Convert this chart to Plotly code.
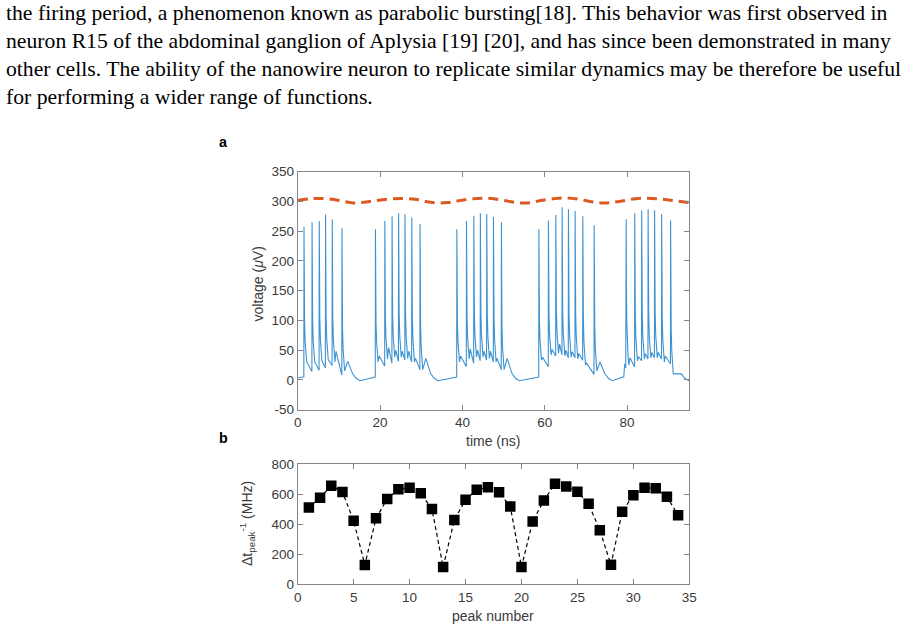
import plotly.graph_objects as go

W, H = 920, 633

# ---------------- paragraph text ----------------
text_lines = [
    "the firing period, a phenomenon known as parabolic bursting[18]. This behavior was first observed in",
    "neuron R15 of the abdominal ganglion of Aplysia [19] [20], and has since been demonstrated in many",
    "other cells. The ability of the nanowire neuron to replicate similar dynamics may be therefore be useful",
    "for performing a wider range of functions.",
]

# ---------------- panel a data ----------------
# spike times (ns) per burst
spike_t = [
    [1.53, 3.49, 5.23, 6.76, 8.39, 10.75],
    [18.88, 21.16, 22.92, 24.50, 26.06, 27.71, 29.71],
    [38.65, 40.99, 42.77, 44.36, 45.91, 47.54, 49.47],
    [58.57, 60.89, 62.69, 64.22, 65.75, 67.37, 69.24, 72.00],
    [79.78, 81.85, 83.54, 85.10, 86.67, 88.39, 90.56],
]
# spike peak voltages (uV)
spike_peak = [
    [257, 265, 267, 278, 270, 255],
    [253, 267, 275, 280, 279, 273, 262],
    [253, 267, 276, 280, 279, 274, 265],
    [253, 268, 277, 290, 287, 284, 275, 260],
    [270, 280, 285, 287, 285, 279, 268],
]
# level reached after the fast repolarisation
spike_floor = [
    [30, 30, 32, 34, 30, 15],
    [30, 35, 38, 38, 36, 30, 17],
    [30, 35, 38, 38, 36, 30, 17],
    [33, 42, 45, 40, 38, 35, 25, 15],
    [25, 32, 35, 37, 37, 30, 10],
]
# after-potential hump
spike_hump = [
    [30, 30, 32, 34, 48, 31],
    [40, 54, 50, 48, 48, 36, 36],
    [40, 52, 50, 48, 48, 36, 36],
    [38, 51, 60, 50, 47, 44, 28, 30],
    [37, 39, 44, 46, 46, 40, 10],
]
# minimum just before the next spike in the burst
spike_trough = [
    [14, 16, 20, 24, 8],
    [23, 28, 31, 33, 30, 17],
    [22, 28, 32, 33, 30, 17],
    [22, 40, 42, 37, 37, 33, 9],
    [22, 32, 35, 37, 35, 27],
]
# resting level just before each burst onset, and pre-burst bump
onset_v = [5, 4.5, 4.5, 4.5, 5]
onset_bump = [None, None, None, None, 27]
trace_start_v = 3
trace_end_t, trace_end_v = 95.1, -0.5
# post-burst tail (time after last spike, voltage)
tail_dt = [2.6, 3.5, 4.4]
tail_v = [10, 2, -1.5]

# orange dashed envelope
orange_t = [0, 3, 5.5, 8.5, 11, 13.5, 16, 18.5, 22, 25.5, 28.5, 31, 34, 36.5, 39, 42, 45, 48,
            51, 54, 56.5, 59, 62, 65, 68, 71, 74, 76.5, 79, 82, 85, 88, 91, 95.1]
orange_v = [301.5, 304.5, 305, 303.5, 300, 297.5, 298.5, 301, 304, 305, 303.5, 300, 297.5, 298,
            301, 304, 305.5, 304, 300.5, 297.5, 298, 301.5, 304.5, 306, 304, 300, 297.5, 298.5,
            301, 304.5, 305.5, 304, 301.5, 298]

# ---------------- panel b data ----------------
peak_number = list(range(1, 35))
peak_rate = [510, 576, 655, 614, 423, 129, 439, 568, 632, 642, 605, 500, 115, 428, 562, 628,
             645, 612, 518, 115, 418, 557, 668, 650, 615, 535, 360, 130, 482, 593, 642, 638,
             582, 460]

a_xticks = [0, 20, 40, 60, 80]
a_yticks = [-50, 0, 50, 100, 150, 200, 250, 300, 350]
a_yticklabels = ["-50", "0", "50", "100", "150", "200", "250", "300", "350"]
b_xticks = [0, 5, 10, 15, 20, 25, 30, 35]
b_yticks = [0, 200, 400, 600, 800]

# ---------------- build voltage trace vertices ----------------
decay_dt = [0.05, 0.14, 0.28, 0.45, 0.65]
decay_fr = [0.55, 0.30, 0.15, 0.05, 0.0]

vt, vv = [0.0], [trace_start_v]
for b in range(len(spike_t)):
    ts = spike_t[b]
    if onset_bump[b] is not None:
        vt += [ts[0] - 0.6, ts[0] - 0.35, ts[0] - 0.12]
        vv += [onset_v[b], onset_bump[b], onset_bump[b] - 7]
    else:
        vt.append(ts[0] - 0.04)
        vv.append(onset_v[b])
    for i, t in enumerate(ts):
        pk = spike_peak[b][i]
        fl = spike_floor[b][i]
        vt.append(t)
        vv.append(pk)
        for d, f in zip(decay_dt, decay_fr):
            vt.append(t + d)
            vv.append(fl + f * (pk - fl))
        if i < len(ts) - 1:
            tn = ts[i + 1]
            hp = spike_hump[b][i]
            if hp > fl + 1:
                vt.append(t + 0.9)
                vv.append(hp)
            vt.append(tn - 0.04)
            vv.append(spike_trough[b][i])
        else:
            hp = spike_hump[b][i]
            if hp > fl + 1:
                vt.append(t + 1.4)
                vv.append(hp)
            for d, v in zip(tail_dt, tail_v):
                vt.append(t + d)
                vv.append(v)
vt.append(trace_end_t)
vv.append(trace_end_v)

# ---------------- figure ----------------
# helpers: screen pixel -> paper coordinate
px = lambda x: x / W
py = lambda y: 1 - y / H

ax_x0, ax_x1 = 297.7, 689.3
a_top, a_bot = 171.7, 409.5
b_top, b_bot = 464.0, 584.3

fig = go.Figure()
fig.add_trace(go.Scatter(x=vt, y=vv, mode="lines", line=dict(color="#3d92d2", width=1.1),
                         xaxis="x", yaxis="y", showlegend=False, hoverinfo="skip"))
fig.add_trace(go.Scatter(x=orange_t, y=orange_v, mode="lines",
                         line=dict(color="#DA5A22", width=3, dash="10px,6px", shape="spline"),
                         xaxis="x", yaxis="y", showlegend=False))
fig.add_trace(go.Scatter(x=peak_number, y=peak_rate, mode="lines+markers",
                         line=dict(color="black", width=1.2, dash="4px,3px"),
                         marker=dict(symbol="square", size=10.5, color="black"),
                         xaxis="x2", yaxis="y2", showlegend=False))

axis_common = dict(showline=True, mirror="ticks", linecolor="#858585", linewidth=1,
                   ticks="inside", ticklen=5, tickcolor="#858585", showgrid=False,
                   zeroline=False, automargin=False,
                   tickfont=dict(family="Liberation Sans, Arial", size=13.5, color="#3a3a3a"))

fig.update_layout(
    width=W, height=H, autosize=False,
    margin=dict(l=0, r=0, t=0, b=0, pad=0),
    paper_bgcolor="white", plot_bgcolor="white",
    xaxis=dict(domain=[px(ax_x0), px(ax_x1)], range=[0, 95.1], tickvals=a_xticks,
               anchor="y", **axis_common),
    yaxis=dict(domain=[py(a_bot), py(a_top)], range=[-50, 350], tickvals=a_yticks,
               ticktext=a_yticklabels, anchor="x", **axis_common),
    xaxis2=dict(domain=[px(ax_x0), px(ax_x1)], range=[0, 35], tickvals=b_xticks,
                anchor="y2", **axis_common),
    yaxis2=dict(domain=[py(b_bot), py(b_top)], range=[0, 800], tickvals=b_yticks,
                anchor="x2", **axis_common),
)

def center_ann(text, x, y, font, angle=0):
    return dict(text=text, x=px(x), y=py(y), xref="paper", yref="paper",
                xanchor="center", yanchor="middle", textangle=angle,
                showarrow=False, font=font)

ann = []
for k, line in enumerate(text_lines):
    ann.append(dict(text=line, x=px(5), y=py(13 + 28 * k), xref="paper", yref="paper",
                    xanchor="left", yanchor="middle", showarrow=False, borderpad=0,
                    font=dict(family="Liberation Serif, Times New Roman, serif", size=21.7,
                              color="black")))
lab_font = dict(family="Liberation Sans, Arial", size=14, color="#3a3a3a")
ann.append(center_ann("voltage (<i>μ</i>V)", 257.5, 284, lab_font, -90))
ann.append(center_ann("time (ns)", 493, 441, lab_font))
ann.append(center_ann("Δt<sub>peak</sub><sup>-1</sup> (MHz)", 247, 524, lab_font, -90))
ann.append(center_ann("peak number", 493, 616, lab_font))
bold_font = dict(family="Liberation Sans, Arial", size=14.3, color="black")
ann.append(center_ann("<b>a</b>", 223, 142, bold_font))
ann.append(center_ann("<b>b</b>", 223, 438, bold_font))
fig.update_layout(annotations=ann)

fig.write_html("out.html")
